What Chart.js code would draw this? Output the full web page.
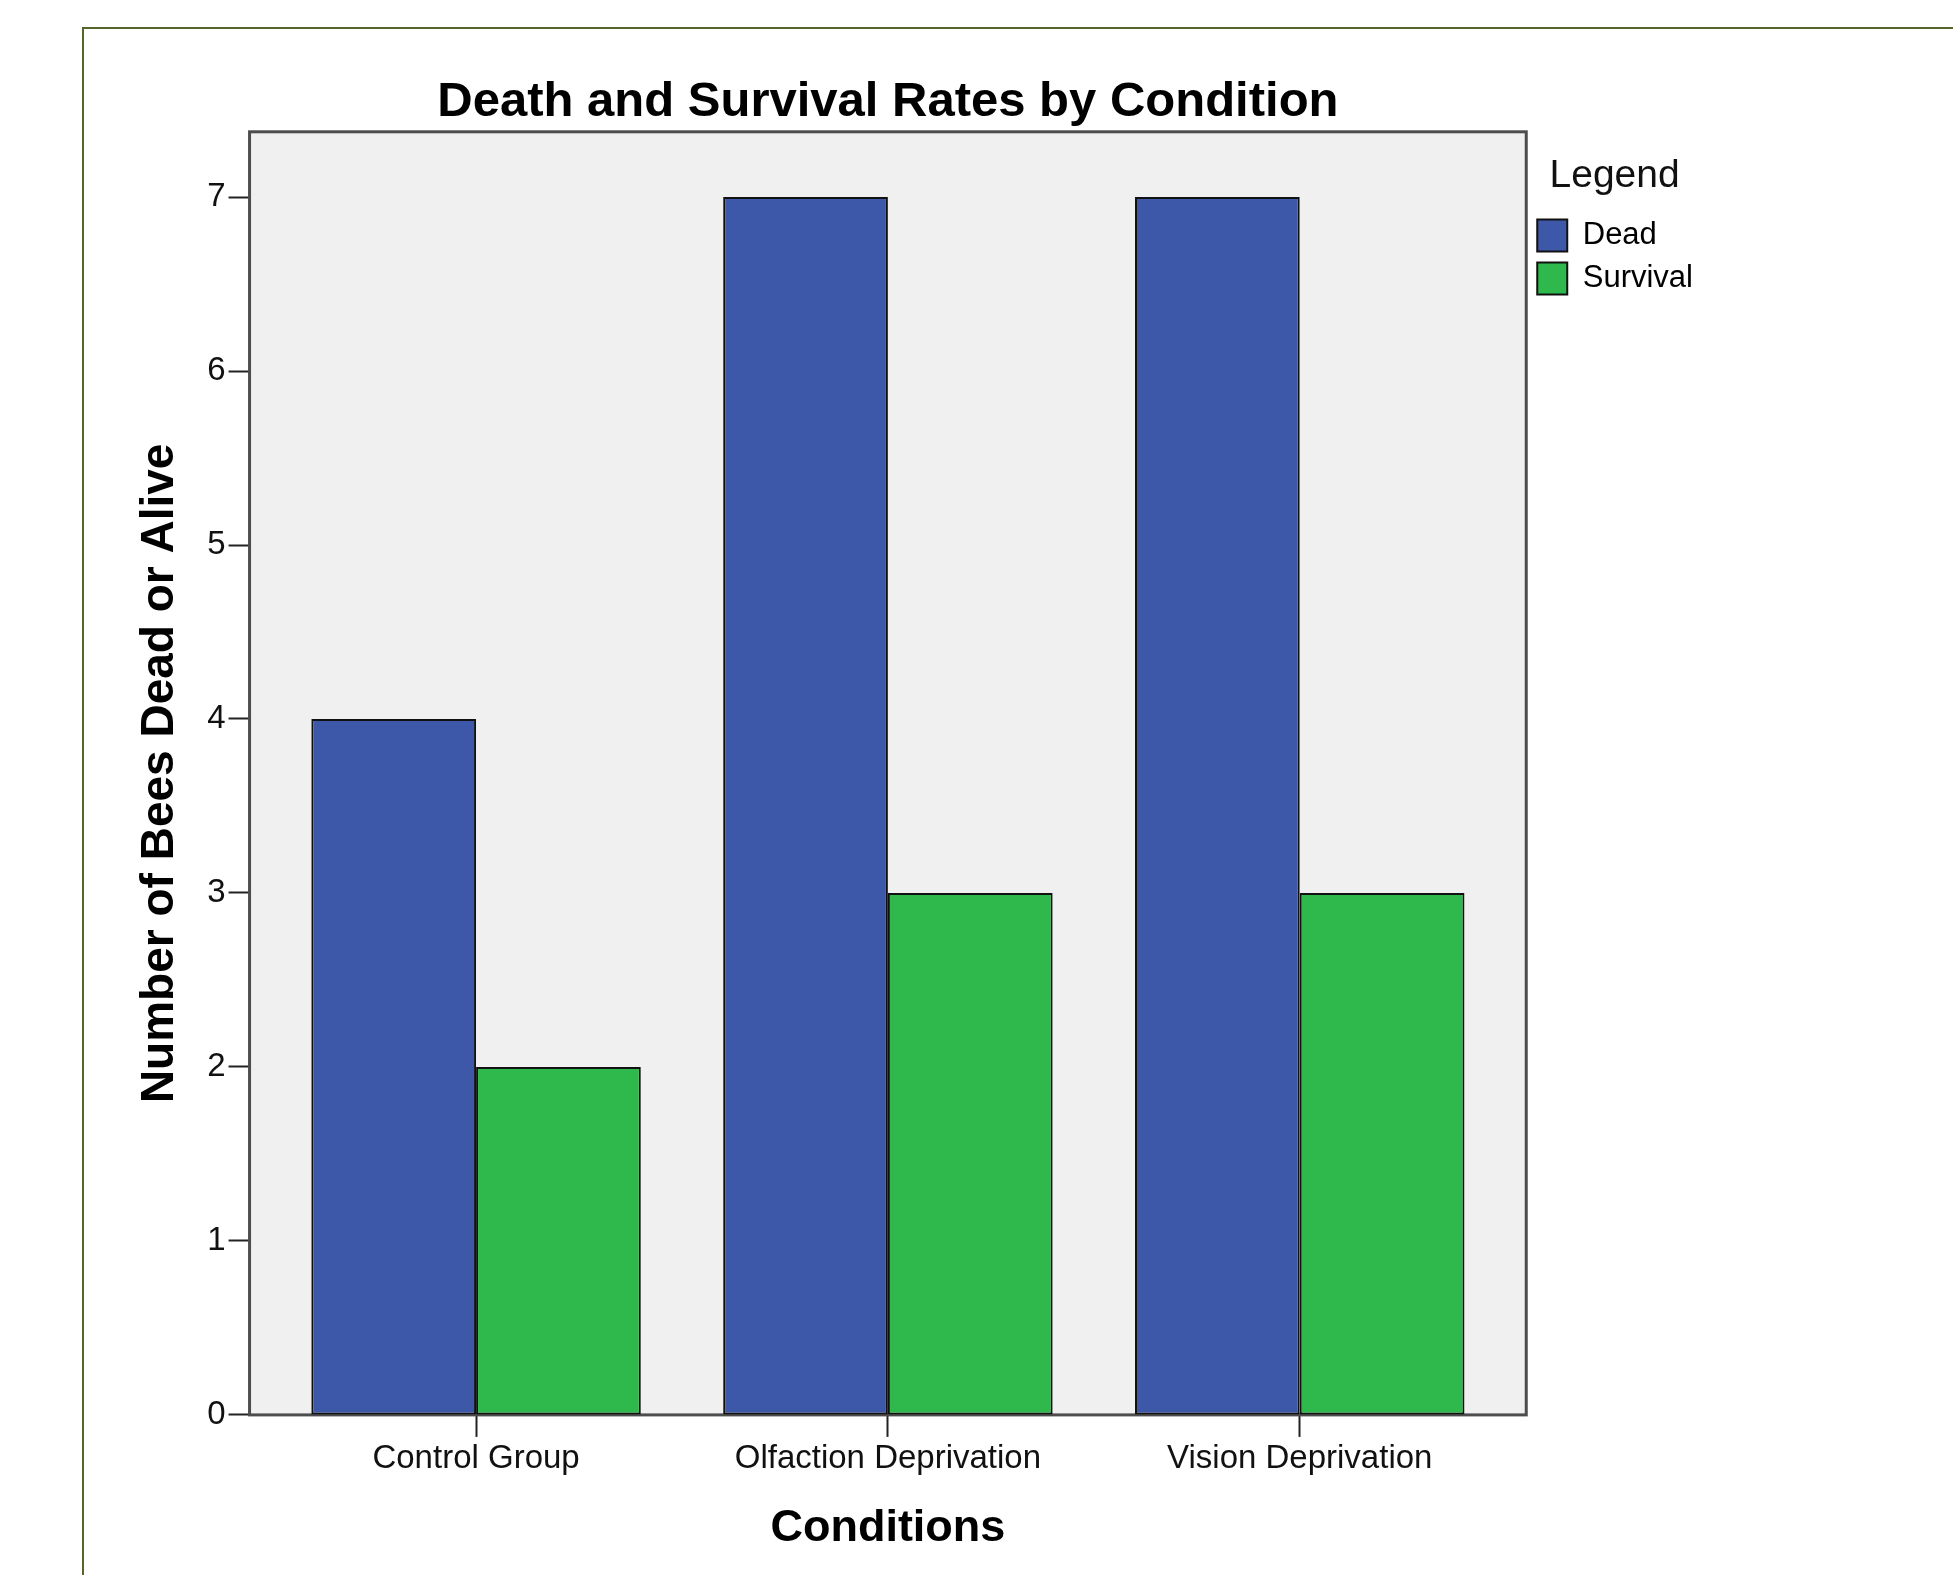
<!DOCTYPE html>
<html>
<head>
<meta charset="utf-8">
<title>Death and Survival Rates by Condition</title>
<script src="https://cdn.jsdelivr.net/npm/chart.js@4.4.1/dist/chart.umd.min.js"></script>
<style>
  html, body { margin: 0; padding: 0; background: #fff; }
  canvas { display: block; }
</style>
</head>
<body>
<canvas id="chart" width="1953" height="1575"></canvas>
<script>
// ================= DATA =================
const categories = ["Control Group", "Olfaction Deprivation", "Vision Deprivation"];
const deadCounts = [4, 7, 7];
const survivalCounts = [2, 3, 3];
const yTicks = [0, 1, 2, 3, 4, 5, 6, 7];

const FONT = "'Liberation Sans', Arial, sans-serif";
Chart.defaults.font.family = FONT;
Chart.defaults.color = "#000";

// grey plot background + frame, olive page frame
const plotFrame = {
    id: "plotFrame",
    beforeDraw(chart) {
        const { ctx, chartArea: a } = chart;
        ctx.save();
        ctx.strokeStyle = "#56662a";
        ctx.lineWidth = 2;
        ctx.beginPath();
        ctx.moveTo(83, chart.height);
        ctx.lineTo(83, 28);
        ctx.lineTo(chart.width, 28);
        ctx.stroke();
        ctx.fillStyle = "#f0f0f0";
        ctx.fillRect(a.left, a.top, a.right - a.left, a.bottom - a.top);
        ctx.restore();
    },
    beforeDatasetsDraw(chart) {
        const { ctx, chartArea: a } = chart;
        ctx.save();
        ctx.strokeStyle = "#4d4d4d";
        ctx.lineWidth = 3;
        ctx.strokeRect(a.left, a.top, a.right - a.left, a.bottom - a.top);
        ctx.restore();
    }
};

const toPoints = arr => arr.map((v, i) => ({ x: i, y: v }));

new Chart(document.getElementById("chart"), {
    type: "bar",
    data: {
        datasets: [
            {
                label: "Dead",
                data: toPoints(deadCounts),
                backgroundColor: "#3d57a9",
                borderColor: "#111",
                borderWidth: 2,
                borderSkipped: false
            },
            {
                label: "Survival",
                data: toPoints(survivalCounts),
                backgroundColor: "#2fb84b",
                borderColor: "#111",
                borderWidth: 2,
                borderSkipped: false
            }
        ]
    },
    options: {
        responsive: false,
        animation: false,
        devicePixelRatio: 1,
        categoryPercentage: 0.8,
        barPercentage: 1.0,
        layout: { padding: { left: 127, right: 250, top: 0, bottom: 19.5 } },
        plugins: {
            tooltip: { enabled: false },
            title: {
                display: true,
                text: "Death and Survival Rates by Condition",
                fullSize: false,
                font: { size: 49, weight: "bold", lineHeight: 1.2 },
                padding: { top: 73, bottom: 0 },
                color: "#000"
            },
            legend: {
                display: true,
                position: "right",
                align: "start",
                fullSize: false,
                title: {
                    display: true,
                    text: "Legend",
                    font: { size: 39, lineHeight: 1.2 },
                    padding: { top: 25, bottom: 5 },
                    color: "#111"
                },
                labels: {
                    boxWidth: 30,
                    boxHeight: 32,
                    padding: 11,
                    font: { size: 31 },
                    color: "#000"
                }
            }
        },
        scales: {
            x: {
                type: "linear",
                min: -0.55,
                max: 2.55,
                offset: false,
                afterBuildTicks: scale => {
                    scale.ticks = categories.map((c, i) => ({ value: i }));
                },
                ticks: {
                    padding: 2.5,
                    font: { size: 33, lineHeight: 1.2 },
                    color: "#111",
                    maxRotation: 0,
                    callback: v => categories[v]
                },
                grid: {
                    offset: false,
                    drawOnChartArea: false,
                    tickLength: 22,
                    tickWidth: 2,
                    tickColor: "#222"
                },
                border: { display: false },
                title: {
                    display: true,
                    text: "Conditions",
                    font: { size: 45, weight: "bold", lineHeight: 1.2 },
                    padding: { top: 20, bottom: 0 },
                    color: "#000"
                }
            },
            y: {
                min: 0,
                max: 7.375,
                afterBuildTicks: scale => {
                    scale.ticks = yTicks.map(v => ({ value: v }));
                },
                ticks: {
                    padding: 3,
                    font: { size: 33, lineHeight: 1.2 },
                    color: "#111"
                },
                grid: {
                    drawOnChartArea: false,
                    tickLength: 21,
                    tickWidth: 2,
                    tickColor: "#222"
                },
                border: { display: false },
                title: {
                    display: true,
                    text: "Number of Bees Dead or Alive",
                    font: { size: 46, weight: "bold", lineHeight: 1.2 },
                    padding: { top: 6, bottom: 16 },
                    color: "#000"
                }
            }
        }
    },
    plugins: [plotFrame]
});
</script>
</body>
</html>
